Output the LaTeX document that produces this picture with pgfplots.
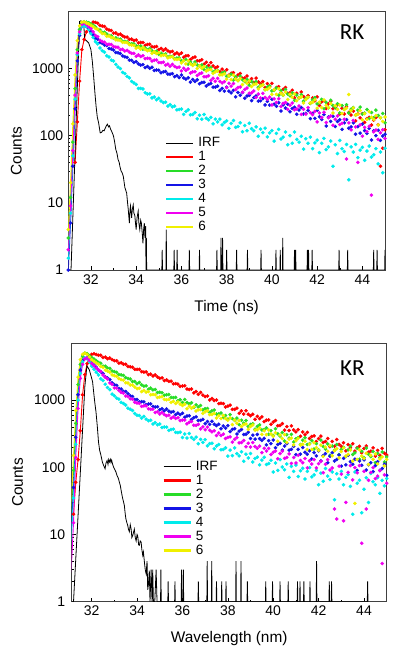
\documentclass[border=0pt]{standalone}
\usepackage{fontspec}
\setmainfont{Liberation Sans}
\newfontfamily\calibri{Carlito}
\usepackage{pgfplots}
\usepackage{pgfplotstable}
\pgfplotsset{compat=1.18}

\definecolor{cR}{RGB}{255,0,0}
\definecolor{cG}{RGB}{40,220,40}
\definecolor{cB}{RGB}{20,20,230}
\definecolor{cC}{RGB}{0,235,235}
\definecolor{cM}{RGB}{240,0,240}
\definecolor{cY}{RGB}{240,240,0}

% x = time, r..y = curves 1..6 (red, green, blue, cyan, magenta, yellow)
\pgfplotstableread[row sep=\\]{
x r g b c m y \\
31.0 nan 3 1 1.5 2 4 \\
31.1 nan 12 5 7 9 20 \\
31.2 nan 80 35 50 60 150 \\
31.3 40 500 250 350 400 800 \\
31.4 160 1900 1300 1600 1700 2600 \\
31.5 650 3800 3100 3300 3500 4300 \\
31.6 1900 4700 4200 4200 4500 4900 \\
31.7 2700 4950 4470 4300 4800 4950 \\
31.8 3500 4900 4200 4200 4500 4750 \\
31.9 4100 4800 3850 3800 4200 4600 \\
32.0 4500 4600 3500 3300 3900 4400 \\
32.1 4900 4400 3150 2900 3500 4200 \\
32.2 4850 4150 2850 2500 3100 3950 \\
32.3 4720 3820 2720 2320 2960 3850 \\
32.4 4350 3740 2430 2020 2630 3540 \\
32.5 4290 3440 2380 1840 2510 3320 \\
32.6 4200 3470 2230 1750 2460 3290 \\
32.7 3870 3250 2190 1540 2300 3020 \\
32.8 3740 3100 1990 1480 2300 3040 \\
32.9 3670 3070 1950 1330 2280 2880 \\
33.0 3360 2810 1880 1290 2120 2870 \\
33.1 3380 2850 1730 1150 2080 2660 \\
33.2 3190 2730 1710 1050 2070 2650 \\
33.3 3250 2730 1670 996 1910 2610 \\
33.4 3060 2540 1540 874 1930 2440 \\
33.5 2940 2530 1490 840 1820 2440 \\
33.6 2930 2490 1460 762 1860 2420 \\
33.7 2710 2330 1330 726 1750 2260 \\
33.8 2740 2340 1320 642 1680 2220 \\
33.9 2610 2320 1230 608 1680 2210 \\
34.0 2650 2160 1260 577 1520 2010 \\
34.1 2400 2130 1170 504 1590 2080 \\
34.2 2440 2160 1120 505 1510 1940 \\
34.3 2430 1940 1140 496 1550 2050 \\
34.4 2220 2010 1030 434 1400 1910 \\
34.5 2280 1880 1070 417 1420 1830 \\
34.6 2300 1980 1010 420 1410 1870 \\
34.7 2110 1840 1040 365 1290 1690 \\
34.8 2090 1760 936 377 1330 1770 \\
34.9 2120 1800 950 342 1340 1670 \\
35.0 1910 1620 943 360 1230 1720 \\
35.1 1990 1690 864 328 1220 1550 \\
35.2 1860 1610 890 310 1240 1580 \\
35.3 1960 1650 901 315 1120 1570 \\
35.4 1830 1490 826 275 1160 1440 \\
35.5 1760 1520 821 290 1080 1480 \\
35.6 1800 1510 835 269 1150 1490 \\
35.7 1630 1390 754 275 1070 1370 \\
35.8 1710 1430 785 242 1030 1360 \\
35.9 1620 1440 733 245 1050 1380 \\
36.0 1700 1310 799 249 920 1210 \\
36.1 1470 1310 725 207 1007 1300 \\
36.2 1540 1360 693 229 937 1170 \\
36.3 1550 1160 728 243 987 1300 \\
36.4 1360 1250 626 204 855 1170 \\
36.5 1440 1130 687 206 890 1110 \\
36.6 1480 1250 642 221 896 1160 \\
36.7 1300 1130 680 178 787 995 \\
36.8 1300 1080 591 201 833 1088 \\
36.9 1350 1130 618 176 858 1011 \\
37.0 1160 966 624 207 755 1064 \\
37.1 1240 1055 548 181 752 919 \\
37.2 1110 978 580 172 778 957 \\
37.3 1220 1030 598 187 665 962 \\
37.4 1090 889 527 150 714 843 \\
37.5 1020 924 528 176 645 892 \\
37.6 1060 928 547 160 712 917 \\
37.7 900 812 470 176 641 806 \\
37.8 975 859 505 145 608 805 \\
37.9 895 881 459 157 635 834 \\
38.0 957 765 526 166 519 694 \\
38.1 794 772 460 128 602 776 \\
38.2 849 822 433 152 546 684 \\
38.3 866 671 471 168 596 793 \\
38.4 732 751 378 133 485 697 \\
38.5 801 663 440 137 521 657 \\
38.6 843 769 400 155 531 707 \\
38.7 716 677 439 114 441 575 \\
38.8 724 639 359 141 486 658 \\
38.9 771 688 388 118 512 601 \\
39.0 631 561 398 153 428 653 \\
39.1 705 641 332 127 433 540 \\
39.2 621 586 368 118 462 577 \\
39.3 719 635 389 135 369 588 \\
39.4 631 526 327 98 416 496 \\
39.5 595 561 331 125 363 543 \\
39.6 639 572 356 111 427 569 \\
39.7 520 482 286 129 370 483 \\
39.8 594 526 324 96 347 488 \\
39.9 542 552 285 110 375 518 \\
40.0 600 463 348 119 286 411 \\
40.1 475 472 294 83 352 479 \\
40.2 521 514 274 108 312 411 \\
40.3 536 399 309 124 354 500 \\
40.4 433 466 233 89 271 429 \\
40.5 489 400 288 95 302 402 \\
40.6 522 487 257 113 312 444 \\
40.7 428 417 293 73 246 345 \\
40.8 436 391 226 100 283 414 \\
40.9 473 433 254 77 305 372 \\
41.0 367 335 265 113 243 417 \\
41.1 427 403 208 88 250 331 \\
41.2 366 365 241 80 276 365 \\
41.3 446 408 262 98 207 377 \\
41.4 381 325 210 63 247 306 \\
41.5 356 358 215 90 209 347 \\
41.6 393 370 238 77 261 373 \\
41.7 305 301 179 95 220 306 \\
41.8 365 342 214 64 205 314 \\
41.9 329 367 181 78 230 341 \\
42.0 378 297 238 86 160 256 \\
42.1 281 308 191 56 218 315 \\
42.2 318 347 174 77 186 261 \\
42.3 331 253 206 91 223 339 \\
42.4 253 313 139 62 157 282 \\
42.5 297 260 189 68 185 261 \\
42.6 325 337 163 83 196 300 \\
42.7 252 280 195 35 143 217 \\
42.8 260 260 137 73 175 279 \\
42.9 289 299 162 54 196 246 \\
43.0 210 217 172 85 146 286 \\
43.1 256 280 124 64 153 214 \\
43.2 210 247 155 58 175 244 \\
43.3 269 288 173 74 45 257 \\
43.4 222 217 129 22 155 410 \\
43.5 203 248 135 68 122 235 \\
43.6 232 262 155 57 168 258 \\
43.7 166 202 105 74 135 202 \\
43.8 211 240 136 47 40 209 \\
43.9 184 266 109 61 145 235 \\
44.0 212 209 149 67 98 172 \\
44.1 158 217 119 43 133 212 \\
44.2 179 245 108 59 115 175 \\
44.3 187 179 128 70 138 227 \\
44.4 144 221 86 48 13 188 \\
44.5 170 185 118 52 114 174 \\
44.6 186 240 100 64 121 199 \\
44.7 145 200 120 38 88 144 \\
44.8 35 185 85 57 110 184 \\
44.9 65 214 99 28 122 163 \\
45.0 122 156 105 65 91 189 \\
}\toptbl

\pgfplotstableread[row sep=\\]{
x r g b c m y \\
31.0 nan 5 3 1.5 1 8 \\
31.1 nan 20 12 8 3 30 \\
31.2 20 90 50 35 15 150 \\
31.3 60 450 280 220 140 700 \\
31.4 130 1700 1200 1000 750 2200 \\
31.5 350 3400 2800 2500 2100 4000 \\
31.6 1200 4500 3900 3700 3400 4800 \\
31.7 2400 5000 4200 4200 4100 5000 \\
31.8 3500 4900 4250 4100 4200 4800 \\
31.9 4400 4600 4000 3700 3900 4400 \\
32.0 4800 4300 3600 3200 3500 4000 \\
32.1 4900 4080 3330 2880 3250 3780 \\
32.2 4780 3870 3090 2600 3010 3570 \\
32.3 4640 3640 2800 2360 2810 3410 \\
32.4 4640 3540 2650 2070 2660 3160 \\
32.5 4310 3200 2490 1960 2370 3070 \\
32.6 4360 3200 2220 1720 2190 2790 \\
32.7 4130 3000 2130 1540 2060 2710 \\
32.8 4230 2960 2020 1430 1800 2600 \\
32.9 4000 2710 1810 1230 1710 2370 \\
33.0 3860 2660 1700 1160 1520 2310 \\
33.1 3850 2590 1650 1070 1510 2260 \\
33.2 3550 2390 1490 1034 1390 2090 \\
33.3 3590 2370 1460 926 1305 2020 \\
33.4 3420 2330 1350 889 1270 1980 \\
33.5 3410 2160 1340 843 1150 1810 \\
33.6 3160 2090 1240 759 1130 1800 \\
33.7 3140 2060 1160 733 1050 1680 \\
33.8 3080 1890 1130 701 1030 1680 \\
33.9 2870 1890 1023 632 930 1570 \\
34.0 2870 1750 1020 596 905 1480 \\
34.1 2870 1830 938 589 892 1500 \\
34.2 2650 1690 949 539 807 1340 \\
34.3 2610 1610 940 571 820 1390 \\
34.4 2620 1630 855 520 821 1310 \\
34.5 2390 1450 875 493 744 1340 \\
34.6 2440 1510 879 502 729 1200 \\
34.7 2280 1420 802 440 734 1210 \\
34.8 2370 1440 790 462 654 1200 \\
34.9 2210 1300 799 430 672 1090 \\
35.0 2120 1310 716 440 621 1110 \\
35.1 2140 1290 744 390 655 1120 \\
35.2 1950 1180 695 397 609 1024 \\
35.3 2000 1200 736 396 585 1013 \\
35.4 1900 1210 686 354 597 1027 \\
35.5 1910 1100 661 365 538 923 \\
35.6 1750 1085 676 369 563 956 \\
35.7 1760 1096 609 332 533 890 \\
35.8 1730 982 640 328 546 940 \\
35.9 1600 1014 607 333 494 872 \\
36.0 1620 923 638 277 504 830 \\
36.1 1630 1020 554 313 505 869 \\
36.2 1460 919 579 272 443 743 \\
36.3 1440 873 583 319 467 813 \\
36.4 1460 912 514 277 480 756 \\
36.5 1280 779 546 260 422 797 \\
36.6 1340 850 563 281 421 689 \\
36.7 1220 789 497 224 435 718 \\
36.8 1300 831 498 260 372 722 \\
36.9 1190 717 518 235 399 634 \\
37.0 1130 746 445 258 362 671 \\
37.1 1150 749 480 209 397 690 \\
37.2 1005 655 436 225 356 609 \\
37.3 1056 692 483 228 337 609 \\
37.4 983 710 437 189 350 634 \\
37.5 1005 623 417 208 297 543 \\
37.6 886 621 437 218 323 586 \\
37.7 897 643 374 182 298 531 \\
37.8 886 549 411 184 312 589 \\
37.9 790 590 383 195 268 532 \\
38.0 814 520 416 147 278 501 \\
38.1 840 610 340 180 284 542 \\
38.2 728 531 366 149 237 433 \\
38.3 727 498 375 194 261 502 \\
38.4 758 540 313 160 276 455 \\
38.5 637 431 345 148 231 496 \\
38.6 691 501 366 170 234 404 \\
38.7 619 454 307 123 250 434 \\
38.8 692 496 310 157 202 442 \\
38.9 617 404 333 138 228 367 \\
39.0 584 435 268 160 200 404 \\
39.1 616 444 301 120 234 427 \\
39.2 518 369 263 135 204 357 \\
39.3 574 407 308 142 192 362 \\
39.4 529 429 267 109 207 386 \\
39.5 563 359 251 128 165 310 \\
39.6 479 363 270 141 192 350 \\
39.7 502 387 216 110 175 306 \\
39.8 507 310 249 114 191 360 \\
39.9 438 351 225 127 155 313 \\
40.0 471 298 254 85 168 290 \\
40.1 496 374 195 116 175 327 \\
40.2 415 315 218 90 134 244 \\
40.3 419 292 227 130 160 302 \\
40.4 447 329 180 101 174 268 \\
40.5 358 246 207 92 136 306 \\
40.6 404 305 225 112 140 234 \\
40.7 353 271 180 71 158 262 \\
40.8 414 309 185 103 114 272 \\
40.9 360 238 205 87 140 215 \\
41.0 337 266 154 108 116 248 \\
41.1 364 276 185 73 151 269 \\
41.2 290 219 157 89 126 215 \\
41.3 335 253 197 97 117 220 \\
41.4 304 275 167 67 135 244 \\
41.5 331 219 156 87 98 184 \\
41.6 268 225 176 99 125 220 \\
41.7 287 249 133 72 112 185 \\
41.8 293 187 165 77 130 232 \\
41.9 242 225 148 90 98 196 \\
42.0 268 182 176 55 113 179 \\
42.1 292 253 125 82 123 214 \\
42.2 234 204 149 62 83 145 \\
42.3 242 187 160 96 111 200 \\
42.4 268 223 117 74 130 173 \\
42.5 203 151 146 66 91 209 \\
42.6 243 208 165 85 98 148 \\
42.7 206 180 124 33 24 177 \\
42.8 259 219 131 80 17 189 \\
42.9 219 155 152 67 104 138 \\
43.0 205 184 104 87 79 172 \\
43.1 232 198 136 55 16 195 \\
43.2 176 145 109 71 30 147 \\
43.3 218 182 151 78 84 156 \\
43.4 196 206 121 52 106 181 \\
43.5 224 155 111 20 65 124 \\
43.6 174 164 132 85 99 29 \\
43.7 196 192 90 58 83 131 \\
43.8 205 132 124 64 106 182 \\
43.9 164 173 107 21 7.4 147 \\
44.0 191 139 129 47 87 135 \\
44.1 208 193 91 70 24 162 \\
44.2 168 156 109 30 64 110 \\
44.3 174 144 117 81 84 151 \\
44.4 195 172 86 61 99 131 \\
44.5 147 117 106 55 68 158 \\
44.6 178 161 121 70 74 112 \\
44.7 151 140 90 41 89 133 \\
44.8 191 169 96 64 3.7 143 \\
44.9 162 120 111 53 77 105 \\
45.0 152 143 76 68 58 131 \\
}\bottbl

\begin{document}
\begin{tikzpicture}
\useasboundingbox (0,0) rectangle (400pt,653pt);

% ---------------- top panel ----------------
\begin{axis}[
  scale only axis, width=316.7pt, height=258.3pt,
  at={(68.3pt,383pt)}, anchor=south west,
  ymode=log, xmin=31.0, xmax=45, ymin=1, ymax=7000,
  xtick={32,34,36,38,40,42,44},
  xticklabels={32,34,36,38,40,42,44},
  minor x tick num=1,
  ytick={1,10,100,1000}, yticklabels={1,10,100,1000},
  tick align=inside, xtick pos=bottom, ytick pos=left,
  major tick length=4pt, minor tick length=2pt,
  axis line style={black!75, line width=0.6pt},
  major tick style={black, line width=0.5pt},
  minor tick style={black, line width=0.5pt},
  tick label style={font=\fontsize{14}{15}\selectfont},
  label style={font=\fontsize{15.4}{17}\selectfont},
  xlabel={Time (ns)}, ylabel={Counts},
  xlabel style={at={(axis description cs:0.5,-0.159)}, anchor=base},
  ylabel style={at={(axis description cs:-0.164,0.461)}, anchor=center},
  xticklabel style={yshift=-1.5pt},
  yticklabel style={xshift=-1.5pt},
  legend cell align=left,
  legend image code/.code={\draw[#1] (0pt,0pt) -- (27pt,0pt);},
  legend style={at={(axis description cs:0.305,0.518)}, anchor=north west,
    draw=none, fill=none, inner sep=0pt,
    font=\fontsize{13.5}{14}\selectfont, column sep=3pt, row sep=0pt,
    nodes={inner sep=1pt, text height=9.5pt, text depth=2.5pt}},
]
\addplot[only marks, mark=*, mark size=1.6pt, color=cR, forget plot] table[x=x,y=r]{\toptbl};
\addplot[no marks, color=cR, line width=0.9pt, forget plot, restrict x to domain=31:32.3] table[x=x,y=r]{\toptbl};
\addplot[only marks, mark=*, mark size=1.6pt, color=cG, forget plot] table[x=x,y=g]{\toptbl};
\addplot[no marks, color=cG, line width=0.9pt, forget plot, restrict x to domain=31:32.3] table[x=x,y=g]{\toptbl};
\addplot[only marks, mark=*, mark size=1.6pt, color=cB, forget plot] table[x=x,y=b]{\toptbl};
\addplot[no marks, color=cB, line width=0.9pt, forget plot, restrict x to domain=31:32.3] table[x=x,y=b]{\toptbl};
\addplot[only marks, mark=*, mark size=1.6pt, color=cC, forget plot] table[x=x,y=c]{\toptbl};
\addplot[no marks, color=cC, line width=0.9pt, forget plot, restrict x to domain=31:32.3] table[x=x,y=c]{\toptbl};
\addplot[only marks, mark=*, mark size=1.6pt, color=cM, forget plot] table[x=x,y=m]{\toptbl};
\addplot[no marks, color=cM, line width=0.9pt, forget plot, restrict x to domain=31:32.3] table[x=x,y=m]{\toptbl};
\addplot[only marks, mark=*, mark size=1.6pt, color=cY, forget plot] table[x=x,y=y]{\toptbl};
\addplot[no marks, color=cY, line width=0.9pt, forget plot, restrict x to domain=31:32.3] table[x=x,y=y]{\toptbl};
\addplot[black, line width=0.8pt, forget plot] coordinates {
(31.00,1) (31.12,1) (31.2,6) (31.3,56) (31.4,540) (31.45,1600) (31.5,5000)
(31.55,5100) (31.6,5000) (31.68,4900) (31.72,2800) (31.76,2650) (31.8,2600)
(31.85,2500) (31.9,2400) (31.95,2150) (32.0,1900) (32.06,1300) (32.12,760)
(32.18,420) (32.23,270) (32.28,190) (32.34,155) (32.41,110) (32.47,112)
(32.53,120) (32.58,118) (32.63,128) (32.68,140) (32.73,148) (32.78,135)
(32.82,140) (32.87,125) (32.92,115) (32.97,105) (33.0,98) (33.05,80)
(33.1,62) (33.15,55) (33.2,44) (33.25,40) (33.28,35) (33.33,30) (33.38,28)
(33.43,25) (33.47,20) (33.5,17) (33.55,15) (33.58,14) (33.62,10) (33.65,8)
(33.68,6) (33.7,5) (33.73,8) (33.75,9) (33.78,7) (33.8,6) (33.83,8)
(33.87,9.3) (33.9,7) (33.94,6.5) (33.97,5) (34.0,4) (34.04,6) (34.09,7.5)
(34.12,5) (34.16,4) (34.2,5.5) (34.23,5) (34.27,3.5) (34.3,2.5) (34.33,4)
(34.36,5) (34.39,3) (34.42,4.5) (34.435,1)
(34.435,1) (34.45,3) (34.465,1)
(35.135,1) (35.15,2) (35.165,1)
(35.315,1) (35.33,4) (35.345,1)
(35.665,1) (35.68,2) (35.695,1)
(35.795,1) (35.81,2) (35.825,1)
(36.335,1) (36.35,2) (36.365,1)
(36.785,1) (36.8,2) (36.815,1)
(37.555,1) (37.57,2) (37.585,1)
(37.735,1) (37.75,3) (37.765,1)
(37.805,1) (37.82,3) (37.835,1)
(37.985,1) (38.0,2) (38.015,1)
(38.425,1) (38.44,2) (38.455,1)
(38.905,1) (38.92,2) (38.935,1)
(39.505,1) (39.52,2) (39.535,1)
(40.165,1) (40.18,2) (40.195,1)
(40.355,1) (40.37,2) (40.385,1)
(40.465,1) (40.48,3) (40.495,1)
(40.985,1) (41.0,2) (41.015,1)
(41.035,1) (41.05,2) (41.065,1)
(41.555,1) (41.57,2) (41.585,1)
(41.605,1) (41.62,2) (41.635,1)
(41.765,1) (41.78,2) (41.795,1)
(42.955,1) (42.97,2) (42.985,1)
(43.335,1) (43.35,2) (43.365,1)
(44.485,1) (44.5,2) (44.515,1)
(44.635,1) (44.65,2) (44.665,1)
(44.985,1) (45.0,2)
};
\addlegendimage{black, line width=0.8pt}\addlegendentry{IRF}
\addlegendimage{cR, line width=2.2pt}\addlegendentry{1}
\addlegendimage{cG, line width=2.2pt}\addlegendentry{2}
\addlegendimage{cB, line width=2.2pt}\addlegendentry{3}
\addlegendimage{cC, line width=2.2pt}\addlegendentry{4}
\addlegendimage{cM, line width=2.2pt}\addlegendentry{5}
\addlegendimage{cY, line width=2.2pt}\addlegendentry{6}
\node[font=\calibri\fontsize{23}{24}\selectfont, inner sep=0pt] at (axis description cs:0.896,0.920) {RK};
\end{axis}

% ---------------- bottom panel ----------------
\begin{axis}[
  scale only axis, width=315pt, height=258.4pt,
  at={(71.7pt,51.3pt)}, anchor=south west,
  ymode=log, xmin=31.12, xmax=45, ymin=1, ymax=7000,
  xtick={32,34,36,38,40,42,44},
  xticklabels={32,34,36,38,40,42,44},
  minor x tick num=1,
  ytick={1,10,100,1000}, yticklabels={1,10,100,1000},
  tick align=inside, xtick pos=bottom, ytick pos=left,
  major tick length=4pt, minor tick length=2pt,
  axis line style={black!75, line width=0.6pt},
  major tick style={black, line width=0.5pt},
  minor tick style={black, line width=0.5pt},
  tick label style={font=\fontsize{14}{15}\selectfont},
  label style={font=\fontsize{15.4}{17}\selectfont},
  xlabel={Wavelength (nm)}, ylabel={Counts},
  xlabel style={at={(axis description cs:0.5,-0.159)}, anchor=base},
  ylabel style={at={(axis description cs:-0.172,0.461)}, anchor=center},
  xticklabel style={yshift=-0.5pt},
  yticklabel style={xshift=-3pt},
  legend cell align=left,
  legend image code/.code={\draw[#1] (0pt,0pt) -- (27pt,0pt);},
  legend style={at={(axis description cs:0.288,0.551)}, anchor=north west,
    draw=none, fill=none, inner sep=0pt,
    font=\fontsize{13.5}{14}\selectfont, column sep=3pt, row sep=0pt,
    nodes={inner sep=1pt, text height=9.5pt, text depth=2.5pt}},
]
\addplot[only marks, mark=*, mark size=1.6pt, color=cR, forget plot] table[x=x,y=r]{\bottbl};
\addplot[no marks, color=cR, line width=0.9pt, forget plot, restrict x to domain=31:32.3] table[x=x,y=r]{\bottbl};
\addplot[only marks, mark=*, mark size=1.6pt, color=cG, forget plot] table[x=x,y=g]{\bottbl};
\addplot[no marks, color=cG, line width=0.9pt, forget plot, restrict x to domain=31:32.3] table[x=x,y=g]{\bottbl};
\addplot[only marks, mark=*, mark size=1.6pt, color=cB, forget plot] table[x=x,y=b]{\bottbl};
\addplot[no marks, color=cB, line width=0.9pt, forget plot, restrict x to domain=31:32.3] table[x=x,y=b]{\bottbl};
\addplot[only marks, mark=*, mark size=1.6pt, color=cC, forget plot] table[x=x,y=c]{\bottbl};
\addplot[no marks, color=cC, line width=0.9pt, forget plot, restrict x to domain=31:32.3] table[x=x,y=c]{\bottbl};
\addplot[only marks, mark=*, mark size=1.6pt, color=cM, forget plot] table[x=x,y=m]{\bottbl};
\addplot[no marks, color=cM, line width=0.9pt, forget plot, restrict x to domain=31:32.3] table[x=x,y=m]{\bottbl};
\addplot[only marks, mark=*, mark size=1.6pt, color=cY, forget plot] table[x=x,y=y]{\bottbl};
\addplot[no marks, color=cY, line width=0.9pt, forget plot, restrict x to domain=31:32.3] table[x=x,y=y]{\bottbl};
\addplot[black, line width=0.8pt, forget plot] coordinates {
(31.12,1) (31.2,1) (31.3,4.4) (31.4,19) (31.5,83) (31.6,370) (31.7,1600)
(31.79,3250) (31.85,3000) (31.9,2800) (31.97,2300) (32.04,1880) (32.1,1200)
(32.15,850) (32.19,670) (32.25,400) (32.3,240) (32.35,180) (32.41,150)
(32.47,120) (32.53,106) (32.59,95) (32.63,115) (32.68,126) (32.72,110)
(32.75,130) (32.78,120) (32.82,132) (32.85,118) (32.88,128) (32.92,112)
(32.97,100) (33.02,92) (33.07,85) (33.12,75) (33.18,68) (33.22,60)
(33.26,54) (33.3,45) (33.34,38) (33.37,34) (33.41,30) (33.44,27) (33.48,20)
(33.51,17) (33.55,15) (33.59,13.6) (33.62,12) (33.66,11) (33.7,14)
(33.74,12) (33.77,9) (33.81,9.7) (33.85,11) (33.88,12) (33.92,9) (33.96,8)
(34.0,10) (34.03,9.5) (34.07,7) (34.1,6.9) (34.14,8) (34.18,7.7) (34.21,6)
(34.25,4.9) (34.28,5.5) (34.32,4) (34.36,3) (34.4,2.6) (34.44,4) (34.47,1.5)
(34.5,1.8) (34.54,2.9) (34.57,1) (34.62,3) (34.66,1) (34.69,3) (34.72,1)
(34.78,1) (34.84,3) (34.88,1)
(35.035,1) (35.05,3) (35.065,1)
(35.355,1) (35.37,2) (35.385,1)
(35.655,1) (35.67,2) (35.685,1)
(35.945,1) (35.96,3) (35.975,1)
(36.025,1) (36.04,3) (36.055,1)
(36.685,1) (36.7,2) (36.715,1)
(37.075,1) (37.09,4) (37.105,1)
(37.275,1) (37.29,4) (37.305,1)
(37.485,1) (37.5,2) (37.515,1)
(37.715,1) (37.73,2) (37.745,1)
(37.905,1) (37.92,2) (37.935,1)
(38.345,1) (38.36,4) (38.375,1)
(38.565,1) (38.58,4) (38.595,1)
(38.845,1) (38.86,2) (38.875,1)
(39.655,1) (39.67,2) (39.685,1)
(39.955,1) (39.97,2) (39.985,1)
(40.285,1) (40.3,2) (40.315,1)
(40.645,1) (40.66,2) (40.675,1)
(41.055,1) (41.07,2) (41.085,1)
(41.165,1) (41.18,2) (41.195,1)
(41.335,1) (41.35,2) (41.365,1)
(41.605,1) (41.62,2) (41.635,1)
(41.895,1) (41.91,4) (41.925,1)
(42.455,1) (42.47,2) (42.485,1)
(42.555,1) (42.57,2) (42.585,1)
(44.145,1) (44.16,2) (44.175,1)
};
\addlegendimage{black, line width=0.8pt}\addlegendentry{IRF}
\addlegendimage{cR, line width=2.2pt}\addlegendentry{1}
\addlegendimage{cG, line width=2.2pt}\addlegendentry{2}
\addlegendimage{cB, line width=2.2pt}\addlegendentry{3}
\addlegendimage{cC, line width=2.2pt}\addlegendentry{4}
\addlegendimage{cM, line width=2.2pt}\addlegendentry{5}
\addlegendimage{cY, line width=2.2pt}\addlegendentry{6}
\node[font=\calibri\fontsize{23}{24}\selectfont, inner sep=0pt] at (axis description cs:0.891,0.904) {KR};
\end{axis}
\end{tikzpicture}
\end{document}
